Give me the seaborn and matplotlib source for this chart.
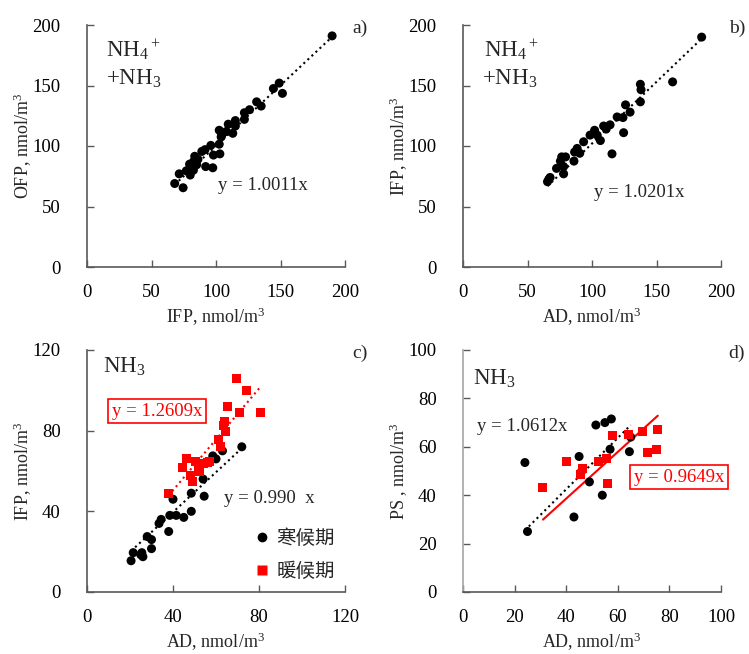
import numpy as np
import pandas as pd
import seaborn as sns
import matplotlib.pyplot as plt

# --- data ---
# a) OFP vs IFP, NH4+ + NH3
a_x = [190, 149, 144.5, 151.5, 131.5, 135, 126, 122, 122, 115, 115, 109.5, 102.5, 108, 113,
       104.5, 104, 102.5, 96, 91.5, 89, 103, 98, 83.5, 86, 82.5, 79.5, 85, 82.5, 92, 97.5,
       77, 80, 71.5, 68, 74.5]
a_y = [191, 152, 147.5, 143.5, 136.5, 133, 130, 127.5, 122, 121, 116.5, 118, 113, 112, 110.5,
       109, 107.5, 101.5, 100.5, 97, 95.5, 93.5, 92.5, 91.5, 89, 87, 85, 84.5, 80, 83, 82,
       79.5, 76, 77, 69, 65.5]

# b) IFP vs AD, NH4+ + NH3
b_x = [185, 137.5, 162.5, 138, 137.5, 126, 129.5, 124, 119.5, 124.5, 114, 109, 111, 102, 98.5,
       104, 106.5, 93.5, 115.5, 88.5, 90.5, 86.5, 76.5, 79.5, 75.5, 86, 72.5, 78, 78, 67.5,
       65.5, 66.5]
b_y = [190, 151, 153, 146.5, 136.5, 134, 128, 123.5, 124, 111, 117.5, 116.5, 114, 113, 109,
       109, 104.5, 103.5, 93.5, 98, 94, 95, 91, 91, 87.5, 87.5, 81.5, 83, 77, 74, 70.5, 72.5]

# c) IFP vs AD, NH3, cold / warm season
c_cold_x = [72, 58.5, 60, 54, 54.5, 48.5, 48.5, 40, 38.5, 41.5, 45, 34.5, 33.5, 38, 28, 30,
            30, 25.5, 21.5, 26, 20.5, 25, 63]
c_cold_y = [72, 67.5, 66, 56, 47.5, 49, 40, 46, 38, 38, 37, 36, 34, 30, 27.5, 26, 21.5, 19.5,
            19.5, 17.5, 15.5, 18.5, 70]
c_warm_x = [69.5, 74, 80.5, 65.5, 71, 64, 63.5, 64.5, 61, 62, 46.5, 50.5, 57, 54, 44.5, 52,
            48, 49, 38, 52.5, 56]
c_warm_y = [106, 100, 89, 92, 89, 84.5, 82.5, 79.5, 75.5, 72, 66, 64.5, 64.5, 63.5, 61.5, 62,
            58, 55, 49, 60, 64]

# d) PS vs AD, NH3, cold / warm season
d_cold_x = [24, 25, 43, 45, 49, 51.5, 55, 57.5, 54, 57, 64.5, 65, 46]
d_cold_y = [53.5, 25, 31, 56, 45.5, 69, 70, 71.5, 40, 59, 58, 64, 50]
d_warm_x = [31, 40, 46.5, 45.5, 52.5, 55.5, 56, 58, 64, 69.5, 75.5, 71.5, 75]
d_warm_y = [43, 54, 51, 48.5, 54, 55, 45, 64.5, 65, 66.5, 67, 57.5, 59]

seasons = ['寒候期', '暖候期']
slope_a = 1.0011
slope_b = 1.0201
slope_c = [0.990, 1.2609]
slope_d = [1.0612, 0.9649]

# --- style ---
sns.set_theme(style='white')
plt.rcParams['font.family'] = ['Liberation Serif', 'Noto Sans CJK SC']
plt.rcParams['mathtext.fontset'] = 'custom'
plt.rcParams['mathtext.rm'] = 'Liberation Serif'
plt.rcParams['mathtext.it'] = 'Liberation Serif:italic'
plt.rcParams['mathtext.bf'] = 'Liberation Serif:bold'

RED = '#ff0000'
AXC = '#595959'
TICK_FS = 13.5
LAB_FS = 13
EQ_FS = 13.5
NH_FS = 16.5

fig = plt.figure(figsize=(7.49, 6.54), dpi=100)
W, H = 749, 654


def make_ax(left, right, top, bottom):
    return fig.add_axes([left / W, 1 - bottom / H, (right - left) / W, (bottom - top) / H])


ax_a = make_ax(87, 345, 25, 267)
ax_b = make_ax(463, 721, 25, 267)
ax_c = make_ax(87, 345, 350, 592)
ax_d = make_ax(463, 721, 350, 592)


def style_ax(ax, lim, ticks, xlabel, ylabel, letter):
    ax.set_xlim(0, lim)
    ax.set_ylim(0, lim)
    ax.set_xticks(ticks)
    ax.set_yticks(ticks)
    for s in ['top', 'right']:
        ax.spines[s].set_visible(False)
    for s in ['left', 'bottom']:
        ax.spines[s].set_color(AXC)
        ax.spines[s].set_linewidth(1.2)
    ax.tick_params(direction='in', length=5, width=1, color=AXC, labelsize=TICK_FS,
                   labelcolor='black', left=True, bottom=True)
    ax.tick_params(axis='y', pad=19)
    ax.tick_params(axis='x', pad=12)
    ax.set_xlabel(xlabel, fontsize=LAB_FS, labelpad=4)
    ax.set_ylabel(ylabel, fontsize=LAB_FS, labelpad=-1)
    ax.text(1.03, 0.985, letter, transform=ax.transAxes, fontsize=14,
            ha='left', va='center')
    ax.grid(False)


def fit_line(ax, xs, slope, color, ls):
    lx = np.array([min(xs), max(xs)])
    sns.lineplot(x=lx, y=slope * lx, ax=ax, color=color, linestyle=ls, linewidth=1.5,
                 zorder=1)


UNIT = 'nmol/m$^3$'
NH4 = 'NH$_4{}^+$'

# a)
fit_line(ax_a, a_x, slope_a, 'black', ':')
sns.scatterplot(x=a_x, y=a_y, ax=ax_a, color='black', s=42, edgecolor='none', zorder=3)
style_ax(ax_a, 200, [0, 50, 100, 150, 200], 'IFP, ' + UNIT, 'OFP, ' + UNIT, 'a)')
ax_a.text(15, 174, NH4, fontsize=NH_FS)
ax_a.text(14.5, 151, '+NH$_3$', fontsize=NH_FS)
ax_a.text(101.5, 63.5, 'y = 1.0011x', fontsize=EQ_FS)

# b)
fit_line(ax_b, b_x, slope_b, 'black', ':')
sns.scatterplot(x=b_x, y=b_y, ax=ax_b, color='black', s=42, edgecolor='none', zorder=3)
style_ax(ax_b, 200, [0, 50, 100, 150, 200], 'AD, ' + UNIT, 'IFP, ' + UNIT, 'b)')
ax_b.text(16, 174, NH4, fontsize=NH_FS)
ax_b.text(14.5, 151, '+NH$_3$', fontsize=NH_FS)
ax_b.text(101.5, 58, 'y = 1.0201x', fontsize=EQ_FS)

# c)
df_c = pd.DataFrame({
    'AD': c_cold_x + c_warm_x,
    'IFP': c_cold_y + c_warm_y,
    'season': [seasons[0]] * len(c_cold_x) + [seasons[1]] * len(c_warm_x),
})
fit_line(ax_c, c_cold_x, slope_c[0], 'black', ':')
fit_line(ax_c, c_warm_x, slope_c[1], RED, ':')
sns.scatterplot(data=df_c, x='AD', y='IFP', hue='season', style='season',
                palette={seasons[0]: 'black', seasons[1]: RED},
                markers={seasons[0]: 'o', seasons[1]: 's'},
                s=42, edgecolor='none', ax=ax_c, zorder=3)
style_ax(ax_c, 120, [0, 40, 80, 120], 'AD, ' + UNIT, 'IFP, ' + UNIT, 'c)')
ax_c.text(7.4, 108.6, 'NH$_3$', fontsize=NH_FS)
ax_c.text(11.6, 87.4, 'y = 1.2609x', fontsize=EQ_FS, color=RED,
          bbox=dict(boxstyle='square,pad=0.2', fc='white', ec=RED, lw=1.2))
ax_c.text(63.7, 44.1, 'y = 0.990  x', fontsize=EQ_FS)
leg = ax_c.legend(loc='lower left', bbox_to_anchor=(0.635, 0.045), frameon=False,
                  fontsize=14, handletextpad=0.1, labelspacing=0.75, borderpad=0,
                  borderaxespad=0, handlelength=1.2, markerscale=1.0)
for h in leg.legend_handles:
    h.set_markersize(7)

# d)
df_d = pd.DataFrame({
    'AD': d_cold_x + d_warm_x,
    'PS': d_cold_y + d_warm_y,
    'season': [seasons[0]] * len(d_cold_x) + [seasons[1]] * len(d_warm_x),
})
fit_line(ax_d, d_cold_x, slope_d[0], 'black', ':')
fit_line(ax_d, d_warm_x, slope_d[1], RED, '-')
sns.scatterplot(data=df_d, x='AD', y='PS', hue='season', style='season',
                palette={seasons[0]: 'black', seasons[1]: RED},
                markers={seasons[0]: 'o', seasons[1]: 's'},
                s=42, edgecolor='none', ax=ax_d, zorder=3, legend=False)
style_ax(ax_d, 100, [0, 20, 40, 60, 80, 100], 'AD, ' + UNIT, 'PS , ' + UNIT, 'd)')
ax_d.spines['left'].set_color('#a6a6a6')
ax_d.text(3.9, 85.6, 'NH$_3$', fontsize=NH_FS)
ax_d.text(5.4, 66.7, 'y = 1.0612x', fontsize=EQ_FS)
ax_d.text(66.1, 45.6, 'y = 0.9649x', fontsize=EQ_FS, color=RED,
          bbox=dict(boxstyle='square,pad=0.2', fc='white', ec=RED, lw=1.2))

fig.savefig('out.png', dpi=100)
